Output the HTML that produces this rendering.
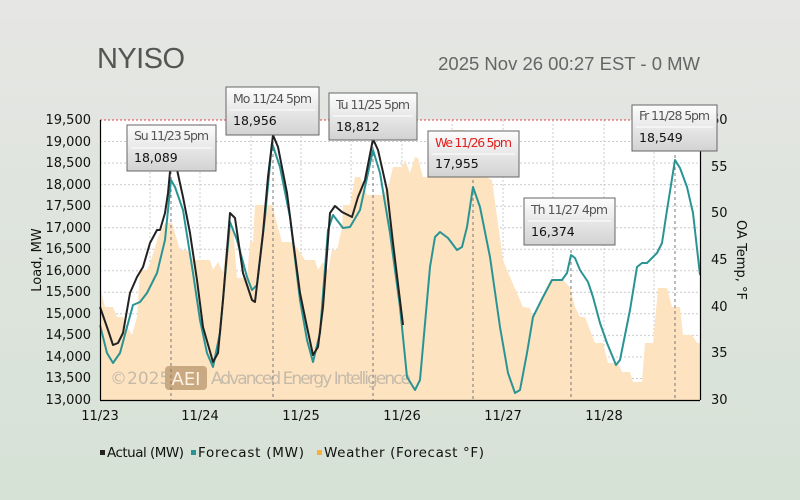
<!DOCTYPE html>
<html><head><meta charset="utf-8"><style>
html,body{margin:0;width:800px;height:500px;overflow:hidden;background:linear-gradient(#e6e6e4,#d6e2d6);font-family:"Liberation Sans",sans-serif}
</style></head><body>
<svg width="800" height="500" xmlns="http://www.w3.org/2000/svg" font-family="DejaVu Sans, sans-serif">
<defs><linearGradient id="cg" x1="0" y1="0" x2="0" y2="1"><stop offset="0" stop-color="#fdfdfd"/><stop offset="1" stop-color="#d2d2d2"/></linearGradient></defs>
<text x="97" y="68" font-size="29" fill="#555" font-family="Liberation Sans, sans-serif" textLength="88">NYISO</text>
<text x="700" y="70" font-size="18.5" fill="#666" text-anchor="end" font-family="Liberation Sans, sans-serif">2025 Nov 26 00:27 EST - 0 MW</text>
<rect x="100" y="120" width="600" height="280" fill="#fff"/>
<g stroke="#ccc" stroke-dasharray="2,2" stroke-width="1">
<line x1="100" x2="700" y1="141.5" y2="141.5"/><line x1="100" x2="700" y1="163" y2="163"/><line x1="100" x2="700" y1="184.6" y2="184.6"/><line x1="100" x2="700" y1="206.2" y2="206.2"/><line x1="100" x2="700" y1="227.7" y2="227.7"/><line x1="100" x2="700" y1="249.2" y2="249.2"/><line x1="100" x2="700" y1="270.8" y2="270.8"/><line x1="100" x2="700" y1="292.3" y2="292.3"/><line x1="100" x2="700" y1="313.8" y2="313.8"/><line x1="100" x2="700" y1="335.4" y2="335.4"/><line x1="100" x2="700" y1="357" y2="357"/><line x1="100" x2="700" y1="378.5" y2="378.5"/>
<line y1="120" y2="400" x1="150" x2="150"/><line y1="120" y2="400" x1="200" x2="200"/><line y1="120" y2="400" x1="251" x2="251"/><line y1="120" y2="400" x1="301" x2="301"/><line y1="120" y2="400" x1="351" x2="351"/><line y1="120" y2="400" x1="402" x2="402"/><line y1="120" y2="400" x1="452" x2="452"/><line y1="120" y2="400" x1="503" x2="503"/><line y1="120" y2="400" x1="553" x2="553"/><line y1="120" y2="400" x1="604" x2="604"/><line y1="120" y2="400" x1="654" x2="654"/>
</g>
<polygon fill="#fde3c0" points="100,400 100,288 105,307 113,307 117,317 123,317 127,327 132,335 137,317 140,270 147,270 152,257 158,237 165,223 172,223 180,250 187,250 193,260 210,260 213,270 218,262 223,272 228,233 233,227 237,278 247,278 250,242 253,242 255,205 272,205 282,242 293,242 305,260 315,260 318,270 323,262 328,270 332,250 337,250 342,228 343,205 350,205 355,177 360,177 363,183 367,195 382,195 388,188 393,167 402,167 405,160 410,173 415,157 418,158 423,177 450,177 453,130 465,130 467,167 492,180 503,260 510,277 523,307 530,308 533,317 550,280 563,280 570,287 575,307 580,317 585,317 595,343 603,343 608,363 618,363 622,372 630,372 633,382 642,382 645,343 653,343 658,288 667,288 672,307 680,307 683,335 692,335 697,343 700,343 700,400"/>
<line x1="100" x2="700" y1="120" y2="120" stroke="#d44" stroke-dasharray="2,2"/>
<g stroke="#777" stroke-dasharray="3,3">
<line x1="171" x2="171" y1="165" y2="400"/><line x1="273" x2="273" y1="130" y2="400"/><line x1="373" x2="373" y1="135" y2="400"/><line x1="473" x2="473" y1="180" y2="400"/><line x1="571" x2="571" y1="250" y2="400"/><line x1="675" x2="675" y1="155" y2="400"/>
</g>
<g opacity="0.55">
<text x="110" y="384" font-size="17" fill="#999">©2025</text>
<rect x="165" y="366" width="42" height="24" rx="4" fill="#a07a50"/>
<text x="186" y="385" font-size="18" fill="#fff" text-anchor="middle">AEI</text>
<text x="211" y="384" font-size="17" fill="#999" textLength="200">Advanced Energy Intelligence</text>
</g>
<polyline fill="none" stroke="#2a9494" stroke-width="2" stroke-linejoin="round" points="100,325 107,353 113,363 120,353 127,327 133,305 140,302 147,293 157,273 165,240 171,180 175,187 183,210 193,273 200,320 207,353 213,367 220,333 230,222 237,240 247,277 252,290 257,285 265,217 272,143 280,167 290,217 300,300 307,340 313,362 320,333 328,230 333,215 343,228 350,227 360,210 373,150 380,173 390,233 400,307 407,377 415,390 420,380 430,267 435,237 440,232 448,238 457,250 462,247 467,227 473,187 480,207 490,257 500,327 508,373 515,393 520,390 527,353 533,317 543,297 552,280 562,280 567,273 571,255 575,258 580,270 588,282 593,297 600,323 607,343 616,365 620,360 630,310 637,267 642,263 647,263 657,253 662,243 667,210 675,160 680,168 687,187 693,213 700,275"/>
<polyline fill="none" stroke="#222" stroke-width="2" stroke-linejoin="round" points="100,307 108,330 113,345 118,343 123,333 130,293 137,277 143,267 150,243 157,230 160,230 165,213 168,193 171,161 176,165 183,197 190,233 197,280 203,327 213,362 218,353 223,300 230,213 235,218 243,273 252,300 255,302 263,233 268,177 273,135 278,147 287,193 293,240 300,293 307,327 313,355 318,347 323,307 330,213 335,206 342,212 352,217 358,197 365,180 373,139 378,150 387,190 393,243 403,325"/>
<g stroke="#000" stroke-width="1.2" fill="none"><line x1="100.5" x2="100.5" y1="120" y2="400"/><line x1="700.5" x2="700.5" y1="120" y2="400"/><line x1="100" x2="700" y1="400.5" y2="400.5"/></g>
<g font-size="13" fill="#111" text-anchor="end">
<text x="91" y="124">19,500</text><text x="91" y="146">19,000</text><text x="91" y="167">18,500</text><text x="91" y="189">18,000</text><text x="91" y="210">17,500</text><text x="91" y="232">17,000</text><text x="91" y="253">16,500</text><text x="91" y="275">16,000</text><text x="91" y="296">15,500</text><text x="91" y="318">15,000</text><text x="91" y="339">14,500</text><text x="91" y="361">14,000</text><text x="91" y="382">13,500</text><text x="91" y="404">13,000</text>
</g>
<g font-size="13" fill="#111"><text x="711" y="124">60</text><text x="711" y="171">55</text><text x="711" y="217">50</text><text x="711" y="264">45</text><text x="711" y="311">40</text><text x="711" y="357">35</text><text x="711" y="404">30</text></g>
<g font-size="13" fill="#111" text-anchor="middle"><text x="100" y="420">11/23</text><text x="200" y="420">11/24</text><text x="301" y="420">11/25</text><text x="402" y="420">11/26</text><text x="503" y="420">11/27</text><text x="604" y="420">11/28</text></g>
<text transform="translate(41,260) rotate(-90)" font-size="13" text-anchor="middle" fill="#111">Load, MW</text>
<text transform="translate(737,260) rotate(90)" font-size="13" text-anchor="middle" fill="#111">OA Temp, °F</text>
<g font-size="12.5">
<rect x="127" y="125" width="89" height="46" fill="url(#cg)" stroke="#666"/><text x="134" y="140" fill="#555" textLength="75">Su 11/23 5pm</text><line x1="131" x2="212" y1="148" y2="148" stroke="#fff"/><text x="134" y="162" fill="#111">18,089</text>
<rect x="226" y="87" width="93" height="48" fill="url(#cg)" stroke="#666"/><text x="233" y="103" fill="#555" textLength="79">Mo 11/24 5pm</text><line x1="230" x2="315" y1="110" y2="110" stroke="#fff"/><text x="233" y="125" fill="#111">18,956</text>
<rect x="329" y="93" width="88" height="47" fill="url(#cg)" stroke="#666"/><text x="336" y="109" fill="#555" textLength="74">Tu 11/25 5pm</text><line x1="333" x2="413" y1="116" y2="116" stroke="#fff"/><text x="336" y="131" fill="#111">18,812</text>
<rect x="428" y="131" width="91" height="46" fill="url(#cg)" stroke="#666"/><text x="435" y="147" fill="#e02020" textLength="77">We 11/26 5pm</text><line x1="432" x2="515" y1="154" y2="154" stroke="#fff"/><text x="435" y="168" fill="#111">17,955</text>
<rect x="524" y="198" width="91" height="47" fill="url(#cg)" stroke="#666"/><text x="531" y="214" fill="#555" textLength="77">Th 11/27 4pm</text><line x1="528" x2="611" y1="221" y2="221" stroke="#fff"/><text x="531" y="236" fill="#111">16,374</text>
<rect x="632" y="105" width="85" height="46" fill="url(#cg)" stroke="#666"/><text x="639" y="120" fill="#555" textLength="71">Fr 11/28 5pm</text><line x1="636" x2="713" y1="127" y2="127" stroke="#fff"/><text x="639" y="142" fill="#111">18,549</text>
</g>
<g font-size="13.5" fill="#111">
<rect x="100" y="450" width="5" height="5" fill="#222"/><text x="107" y="457" textLength="77">Actual (MW)</text>
<rect x="191" y="450" width="5" height="5" fill="#2a9494"/><text x="198" y="457" textLength="106">Forecast (MW)</text>
<rect x="317" y="450" width="5" height="5" fill="#f6b040"/><text x="324" y="457" textLength="160">Weather (Forecast °F)</text>
</g>
</svg>
</body></html>
